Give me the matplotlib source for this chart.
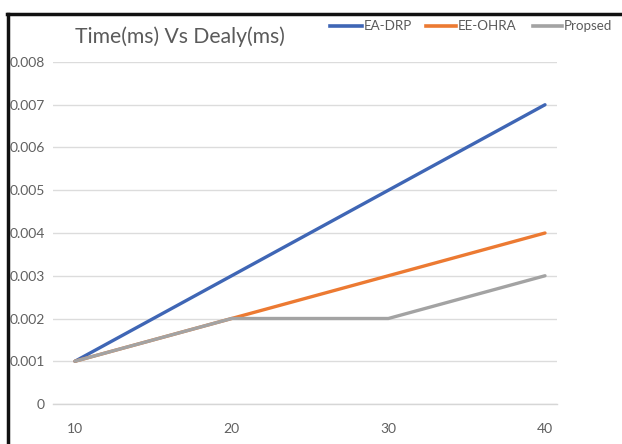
import matplotlib
matplotlib.use("Agg")
import matplotlib.pyplot as plt
from matplotlib.lines import Line2D

plt.rcParams['font.family'] = ['Lato', 'DejaVu Sans']

# Data
x_labels = ["10", "20", "30", "40"]
x_values = [10, 20, 30, 40]
ea_drp = [0.001, 0.003, 0.005, 0.007]
ee_ohra = [0.001, 0.002, 0.003, 0.004]
propsed = [0.001, 0.002, 0.002, 0.003]
y_ticks = [0, 0.001, 0.002, 0.003, 0.004, 0.005, 0.006, 0.007, 0.008]
y_tick_labels = ["0", "0.001", "0.002", "0.003", "0.004", "0.005", "0.006", "0.007", "0.008"]

W, H = 622, 444
fig = plt.figure(figsize=(W / 100, H / 100), dpi=100)
fig.patch.set_facecolor("white")

left, right, top, bottom = 53, 557, 62, 404
ax = fig.add_axes([left / W, (H - bottom) / H, (right - left) / W, (bottom - top) / H])

blue = "#3f66b5"
orange = "#ec7a32"
gray = "#a3a3a3"

ax.plot(x_values, ea_drp, color=blue, lw=2.4, solid_capstyle="round", zorder=3)
ax.plot(x_values, ee_ohra, color=orange, lw=2.4, solid_capstyle="round", zorder=3)
ax.plot(x_values, propsed, color=gray, lw=2.4, solid_capstyle="round", zorder=4)

# x positions: 10 at px 75, 40 at px 545
px_per_unit = (545 - 75) / 30
ax.set_xlim(10 - (75 - left) / px_per_unit, 40 + (right - 545) / px_per_unit)
ax.set_ylim(0, 0.008)

ax.set_yticks(y_ticks)
ax.set_yticklabels(y_tick_labels)
ax.set_xticks(x_values)
ax.set_xticklabels(x_labels)
ax.tick_params(axis="both", length=0, labelsize=10, labelcolor="#606060")
ax.tick_params(axis="y", pad=6)
ax.tick_params(axis="x", pad=14)

ax.grid(axis="y", color="#dcdcdc", lw=1.0)
ax.set_axisbelow(True)
for s in ["top", "right", "left"]:
    ax.spines[s].set_visible(False)
ax.spines["bottom"].set_color("#d6d6d6")
ax.spines["bottom"].set_linewidth(1.0)

# Title
fig.text(75 / W, 1 - 43 / H, "Time(ms) Vs Dealy(ms)", fontsize=15.2, color="#5a5a5a",
         ha="left", va="baseline")

# Legend
legend_items = [("EA-DRP", blue, 330, 362, 364),
                ("EE-OHRA", orange, 426, 456, 458),
                ("Propsed", gray, 533, 562, 564)]
ly = 1 - 26 / H
for label, col, x0, x1, tx in legend_items:
    fig.add_artist(Line2D([x0 / W, x1 / W], [ly, ly], color=col, lw=2.6))
    fig.text(tx / W, ly, label, fontsize=9.6, color="#5a5a5a", ha="left", va="center")

# Frame edges
fig.add_artist(Line2D([7 / W, 1], [1 - 14 / H, 1 - 14 / H], color="#111111", lw=2.5, zorder=10))
fig.add_artist(Line2D([8 / W, 8 / W], [0, 1 - 14 / H], color="#111111", lw=2.5, zorder=10))

fig.savefig("out.png", dpi=100, facecolor="white")
